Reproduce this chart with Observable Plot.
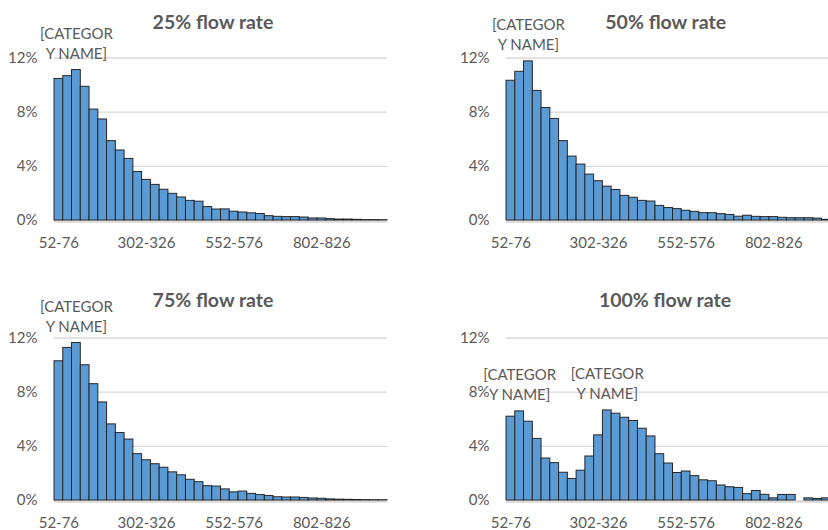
<!DOCTYPE html>
<html><head><meta charset="utf-8">
<script src="https://cdn.jsdelivr.net/npm/d3@7"></script>
<script src="https://cdn.jsdelivr.net/npm/@observablehq/plot@0.6"></script>
<style>
html,body{margin:0;padding:0;background:#fff;overflow:hidden;width:828px;height:530px;}
#wrap{position:relative;width:828px;height:530px;overflow:hidden;font-family:Lato,sans-serif;}
.title{position:absolute;font-weight:bold;font-size:19.5px;color:#595959;transform:translate(-50%,-50%);white-space:nowrap;line-height:1;}
.panel{position:absolute;}
</style></head><body><div id="wrap"></div><script>
const categories = ["52-76","77-101","102-126","127-151","152-176","177-201","202-226","227-251","252-276","277-301",
  "302-326","327-351","352-376","377-401","402-426","427-451","452-476","477-501","502-526","527-551",
  "552-576","577-601","602-626","627-651","652-676","677-701","702-726","727-751","752-776","777-801",
  "802-826","827-851","852-876","877-901","902-926","927-951","952-976","977-1001"];
const tickLabels = ["52-76","302-326","552-576","802-826"];
const yTicks = [0, 4, 8, 12];
const titles = ["25% flow rate","50% flow rate","75% flow rate","100% flow rate"];
const flow25 = [10.45,10.66,11.11,9.87,8.19,7.46,5.86,5.17,4.55,3.58,3.0,2.63,2.27,1.97,1.70,1.45,1.39,0.99,0.81,0.82,0.65,0.59,0.53,0.48,0.32,0.27,0.25,0.25,0.22,0.15,0.15,0.10,0.07,0.07,0.05,0.03,0.03,0.02];
const flow50 = [10.32,10.98,11.75,9.57,8.31,7.50,5.86,4.72,4.13,3.39,2.90,2.50,2.25,1.82,1.68,1.45,1.40,1.08,0.92,0.84,0.72,0.64,0.54,0.54,0.47,0.41,0.28,0.35,0.27,0.25,0.25,0.20,0.17,0.17,0.17,0.14,0.05,0.03];
const flow75 = [10.28,11.27,11.63,9.99,8.59,7.24,5.62,4.98,4.50,3.42,2.97,2.68,2.42,2.08,1.86,1.53,1.35,1.06,1.03,0.82,0.60,0.66,0.49,0.40,0.33,0.24,0.22,0.22,0.19,0.15,0.13,0.08,0.06,0.05,0.04,0.03,0.02,0.02];
const flow100 = [6.19,6.58,5.82,4.55,3.10,2.76,2.05,1.59,2.20,3.25,4.81,6.65,6.41,6.11,5.87,5.30,4.73,3.42,2.73,2.03,2.14,1.80,1.49,1.42,1.11,0.98,0.93,0.47,0.70,0.42,0.16,0.41,0.41,0,0.16,0.11,0.16,0.12];
const labelText = "[CATEGOR\nY NAME]";
const labelIdx = [[2],[2],[2],[1,11]];

function panel(values, idx) {
  const data = categories.map((c, i) => ({c, v: values[i]}));
  const labels = idx.map(i => data[i]);
  return Plot.plot({
    width: 414, height: 260, marginLeft: 54, marginRight: 27, marginTop: 57.5, marginBottom: 40,
    style: {fontFamily: "Lato, sans-serif", fontSize: "15px", color: "#595959", background: "transparent", overflow: "visible"},
    x: {type: "band", domain: categories, padding: 0, round: false},
    y: {domain: [0, 12]},
    marks: [
      Plot.ruleY([4, 8, 12], {stroke: "#d9d9d9", strokeWidth: 1.3}),
      Plot.ruleY([0], {stroke: "#d9d9d9", strokeWidth: 2.5, dy: 1}),
      Plot.barY(data, {x: "c", y: "v", fill: "#5b9bd5", stroke: "#262626", strokeWidth: 1, inset: 0}),
      Plot.axisX(tickLabels, {tickSize: 0, tickPadding: 17, label: null, fontSize: 15}),
      Plot.axisY(yTicks, {tickSize: 0, tickPadding: 17, label: null, tickFormat: d => d + "%", fontSize: 15}),
      Plot.text(labels, {x: "c", y: "v", text: () => labelText, lineAnchor: "bottom", dy: -11, lineHeight: 1.36, fill: "#595959", fontSize: 15})
    ]
  });
}

const wrap = document.getElementById("wrap");
const series = [flow25, flow50, flow75, flow100];
const pos = [[0,0],[452,0],[0,280],[452,280]];
const titlePos = [[213,21.7],[665.7,21.5],[213,300],[665,300]];
series.forEach((s, k) => {
  const el = panel(s, labelIdx[k]);
  el.classList.add("panel");
  el.style.left = pos[k][0] + "px";
  el.style.top = pos[k][1] + "px";
  wrap.appendChild(el);
  const t = document.createElement("div");
  t.className = "title";
  t.textContent = titles[k];
  t.style.left = titlePos[k][0] + "px";
  t.style.top = titlePos[k][1] + "px";
  wrap.appendChild(t);
});
</script></body></html>
